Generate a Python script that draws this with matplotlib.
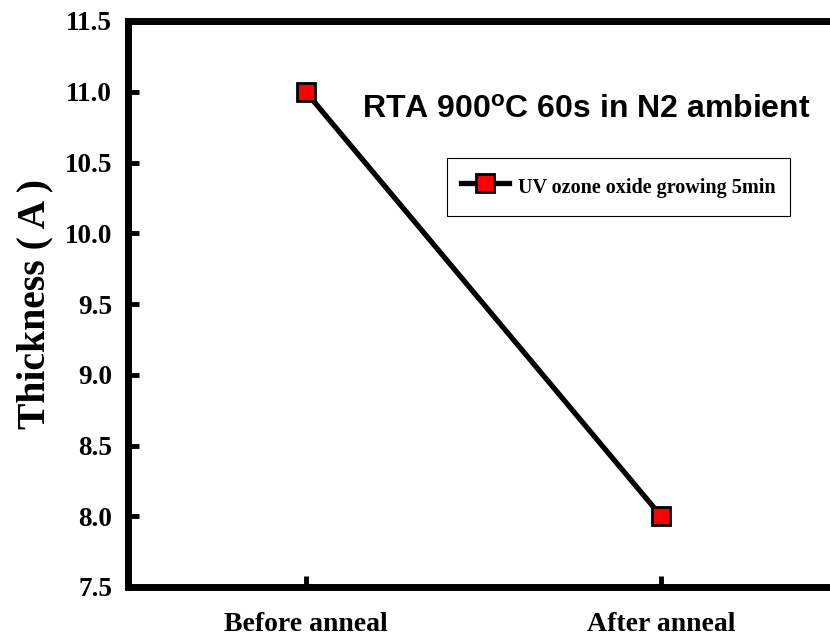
import matplotlib
matplotlib.use("Agg")
import matplotlib.pyplot as plt

categories = ["Before anneal", "After anneal"]
thickness = [11.0, 8.0]
series_label = "UV ozone oxide growing 5min"
yticks = [7.5, 8.0, 8.5, 9.0, 9.5, 10.0, 10.5, 11.0, 11.5]

fig = plt.figure(figsize=(8.3, 6.38), dpi=100)
ax = fig.add_axes([128/830, 51/638, 711/830, 566/638])

x = list(range(len(categories)))
ax.plot(x, thickness, color="black", lw=3.8, marker="s", markersize=13,
        markerfacecolor="red", markeredgecolor="black", markeredgewidth=2,
        label=series_label, clip_on=False)

ax.set_xlim(-0.5, 1.5)
ax.set_ylim(7.5, 11.5)
ax.set_xticks(x)
ax.set_xticklabels(categories, fontfamily="Liberation Serif", fontweight="bold", fontsize=20)
ax.set_yticks(yticks)
ax.set_yticklabels([f"{v:.1f}" for v in yticks], fontfamily="Liberation Serif",
                   fontweight="bold", fontsize=19.5)
ax.tick_params(direction="in", length=8, width=3.5)
ax.tick_params(axis="y", pad=11.5)
ax.tick_params(axis="x", pad=18)
for s in ax.spines.values():
    s.set_linewidth(5)

ax.set_ylabel("Thickness ( A )", fontfamily="Liberation Serif", fontweight="bold",
              fontsize=28.5, labelpad=8)

fig.text(586/830, 1 - 110/638, r"RTA 900$\mathregular{^o}$C 60s in N2 ambient",
         fontfamily="Liberation Sans", fontweight="bold", fontsize=23,
         ha="center", va="center")

leg = ax.legend(loc="upper left", bbox_to_anchor=((447-128)/711, (587-158)/566),
                borderaxespad=0,
                prop={"family": "Liberation Serif", "weight": "bold", "size": 14.5},
                fancybox=False, edgecolor="black", framealpha=1,
                borderpad=0.7, handlelength=2.4, handletextpad=0.45,
                handleheight=1.9, markerscale=1.0)
leg.get_frame().set_linewidth(0.8)

fig.savefig("out.png", dpi=100)
